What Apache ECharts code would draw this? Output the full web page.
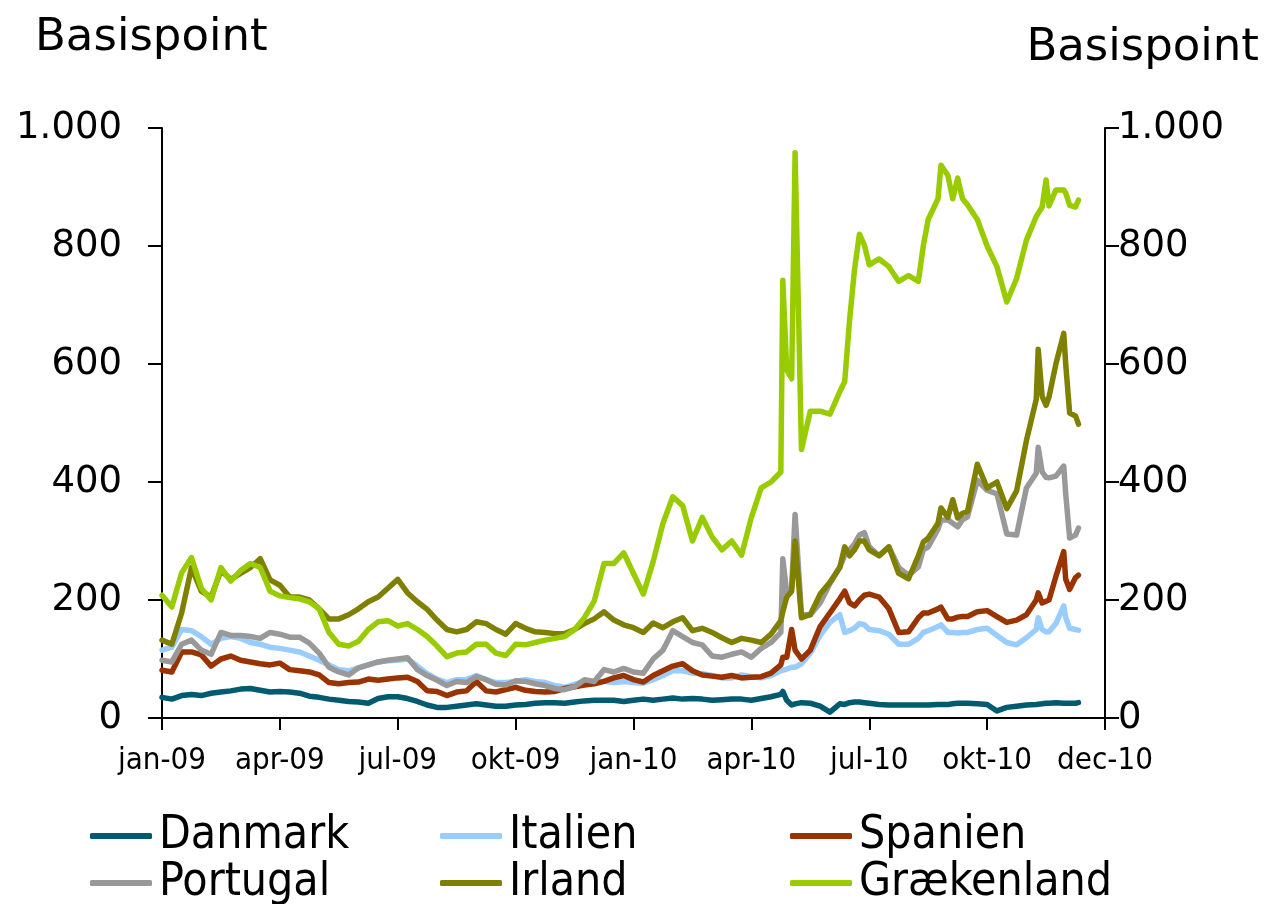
<!DOCTYPE html>
<html>
<head>
<meta charset="utf-8">
<script src="https://cdn.jsdelivr.net/npm/echarts@6/dist/echarts.min.js"></script>
<style>
  html, body { margin: 0; padding: 0; background: #fff; }
  #chart { width: 1269px; height: 904px; }
</style>
</head>
<body>
<div id="chart"></div>
<script>
// x positions in weeks from start of jan-09 (one tick label every 12 weeks)
const weeks = [
  0, 1, 2, 3, 4, 5, 6, 7, 8, 9, 10, 11, 12, 13, 14, 15, 16, 17, 18, 19,
  20, 21, 22, 23, 24, 25, 26, 27, 28, 29, 30, 31, 32, 33, 34, 35, 36, 37, 38, 39,
  40, 41, 42, 43, 44, 45, 46, 47, 48, 49, 50, 51, 52, 53, 54, 55, 56, 57, 58, 59,
  60, 61, 62, 63, 63.2, 63.6, 64.1, 64.45, 65.1, 66, 67, 68, 69, 69.5, 70, 70.5,
  71, 71.5, 72, 73, 74, 75, 76, 77, 77.5, 78, 79, 79.3, 80, 80.5, 81, 81.5, 82,
  83, 84, 85, 86, 87, 88, 89, 89.2, 89.6, 90, 90.3, 91, 91.8, 92, 92.4, 93, 93.3
]
const xLabels = ["jan-09", "apr-09", "jul-09", "okt-09", "jan-10", "apr-10", "jul-10", "okt-10", "dec-10"]

const danmark = [
  35, 32, 38, 40, 38, 42, 44, 46, 49, 50, 47, 44, 45, 44, 42, 37, 35, 32, 30, 28,
  27, 25, 33, 36, 36, 33, 28, 22, 18, 18, 20, 22, 24, 22, 20, 20, 22, 23, 25, 26,
  26, 25, 27, 29, 30, 30, 30, 28, 30, 32, 30, 32, 34, 32, 33, 32, 30, 31, 32, 32,
  30, 33, 36, 40, 45, 30, 22, 24, 26, 25, 20, 10, 24, 23, 26, 27,
  27, 26, 25, 23, 22, 22, 22, 22, 22, 22, 23, 23, 23, 24, 25, 25, 25,
  24, 23, 12, 18, 20, 22, 23, 23, 24, 25, 25, 26, 25, 26, 25, 25, 26
]
const italien = [
  115, 120, 150, 148, 138, 125, 135, 138, 135, 128, 125, 120, 118, 115, 112, 105, 98, 90, 82, 80,
  85, 90, 95, 97, 98, 100, 88, 75, 66, 60, 65, 65, 72, 65, 60, 60, 62, 65, 62, 60,
  55, 52, 57, 62, 62, 62, 60, 62, 60, 59, 65, 72, 80, 80, 76, 75, 72, 68, 68, 73,
  70, 68, 72, 80, 81, 83, 86, 86, 92, 110, 140, 162, 175, 145, 148, 152,
  160, 158, 150, 148, 142, 125, 125, 135, 145, 148, 155, 158, 145, 145, 144, 145, 145,
  150, 152, 140, 128, 124, 136, 150, 170, 150, 146, 146, 160, 190, 170, 152, 150, 149
]
const spanien = [
  81, 78, 112, 112, 107, 88, 100, 105, 98, 95, 92, 90, 93, 82, 80, 78, 73, 60, 58, 60,
  61, 66, 64, 66, 68, 69, 62, 46, 45, 38, 44, 46, 62, 46, 44, 48, 52, 47, 45, 44,
  45, 50, 53, 56, 58, 62, 68, 72, 65, 61, 72, 80, 88, 92, 80, 73, 71, 69, 72, 68,
  69, 70, 76, 90, 103, 103, 150, 115, 100, 115, 155, 178, 202, 215, 195, 190,
  200, 208, 210, 205, 185, 145, 146, 170, 178, 178, 185, 188, 168, 168, 171, 172, 172,
  180, 182, 172, 162, 166, 175, 200, 212, 195, 198, 200, 240, 282, 235, 218, 238, 242
]
const portugal = [
  98, 95, 125, 132, 115, 108, 145, 140, 140, 138, 135, 145, 142, 137, 137, 127, 110, 86, 78, 73,
  85, 90, 95, 98, 100, 102, 82, 72, 64, 55, 62, 60, 70, 65, 57, 56, 63, 62, 58, 55,
  50, 48, 53, 65, 62, 82, 78, 84, 78, 76, 100, 115, 148, 138, 128, 124, 105, 103, 108, 112,
  103, 118, 128, 145, 270, 212, 220, 345, 175, 175, 195, 228, 256, 275, 285, 295,
  310, 314, 290, 275, 290, 255, 242, 256, 285, 290, 320, 335, 336, 330, 324, 336, 341,
  403, 386, 380, 312, 310, 390, 415, 459, 417, 408, 407, 410, 427, 380, 305, 310, 322
]
const irland = [
  132, 125, 178, 255, 215, 205, 250, 235, 245, 255, 270, 234, 225, 205, 205, 200, 185, 168, 168, 175,
  185, 197, 205, 220, 235, 212, 197, 184, 166, 150, 146, 150, 163, 160, 150, 142, 160, 152, 146, 145,
  143, 143, 150, 160, 168, 180, 166, 158, 153, 145, 161, 153, 163, 170, 148, 152, 145, 136, 128, 135,
  132, 128, 142, 165, 180, 205, 215, 300, 170, 175, 210, 230, 255, 290, 275, 285,
  300, 300, 285, 275, 290, 245, 236, 275, 298, 305, 330, 356, 340, 370, 339, 347, 350,
  430, 390, 400, 355, 385, 470, 540, 625, 545, 530, 544, 600, 652, 600, 517, 512, 498
]
const graekenland = [
  208, 188, 246, 272, 220, 200, 255, 232, 250, 262, 255, 215, 207, 204, 202, 197, 185, 145, 125, 122,
  130, 150, 163, 165, 156, 160, 150, 138, 122, 104, 110, 112, 125, 125, 110, 106, 125, 124, 128, 132,
  135, 138, 150, 170, 198, 262, 262, 280, 245, 210, 265, 330, 375, 360, 300, 340, 307, 285, 300, 276,
  340, 390, 400, 417, 742, 590, 575, 958, 455, 520, 520, 515, 553, 570, 675, 760,
  820, 802, 768, 778, 765, 740, 750, 740, 800, 845, 880, 937, 920, 880, 915, 880, 870,
  845, 800, 765, 705, 745, 810, 850, 853, 866, 912, 868, 895, 895, 890, 869, 866, 878
]

const seriesNames = ["Danmark", "Italien", "Spanien", "Portugal", "Irland", "Grækenland"]
const seriesValues = [danmark, italien, spanien, portugal, irland, graekenland]
const seriesColors = ["#005a70", "#99ccff", "#993300", "#999999", "#808000", "#99cc00"]

const font = "DejaVu Sans"
const condensed = "'DejaVu Sans Condensed', 'Liberation Sans Narrow', 'DejaVu Sans'"

const chart = echarts.init(document.getElementById("chart"), null, { renderer: "canvas" })

// 3 legend columns, 2 rows each
const legendCol = (names, left) => ({
  data: names,
  orient: "vertical",
  left: left,
  top: 813,
  height: 120,
  padding: 0,
  itemGap: 1,
  itemWidth: 62,
  itemHeight: 6,
  icon: "roundRect",
  textStyle: { fontFamily: condensed, fontSize: 46, color: "#000", lineHeight: 46, padding: [0, 0, 0, 2] },
  selectedMode: false
})

const yAxisBase = {
  type: "value",
  min: 0,
  max: 1000,
  interval: 200,
  splitLine: { show: false },
  axisLine: { show: true, lineStyle: { color: "#000", width: 2 } },
  axisTick: { show: true, length: 14, lineStyle: { color: "#000", width: 2 } },
  axisLabel: {
    fontFamily: font,
    fontSize: 37,
    color: "#000",
    formatter: (v) => (v >= 1000 ? "1." + String(v).slice(1) : String(v))
  }
}

const option = {
  animation: false,
  backgroundColor: "#fff",
  title: [
    { text: "Basispoint", left: 30, top: 11, textStyle: { fontFamily: font, fontSize: 45, fontWeight: "normal", color: "#000" } },
    { text: "Basispoint", right: 5, top: 21, textStyle: { fontFamily: font, fontSize: 45, fontWeight: "normal", color: "#000" } }
  ],
  legend: [
    legendCol(["Danmark", "Portugal"], 90),
    legendCol(["Italien", "Irland"], 440),
    legendCol(["Spanien", "Grækenland"], 790)
  ],
  grid: { left: 162, right: 164, top: 128, bottom: 186, containLabel: false },
  xAxis: {
    type: "value",
    min: 0,
    max: 96,
    interval: 12,
    splitLine: { show: false },
    axisLine: { show: true, onZero: false, lineStyle: { color: "#000", width: 2 } },
    axisTick: { show: true, length: 12, lineStyle: { color: "#000", width: 2 } },
    axisLabel: {
      fontFamily: condensed,
      fontSize: 31,
      color: "#000",
      margin: 27,
      formatter: (v) => xLabels[Math.round(v / 12)] || ""
    }
  },
  yAxis: [
    Object.assign({}, yAxisBase, { position: "left", axisLabel: Object.assign({}, yAxisBase.axisLabel, { margin: 40 }) }),
    Object.assign({}, yAxisBase, { position: "right", axisLabel: Object.assign({}, yAxisBase.axisLabel, { margin: 13 }) })
  ],
  series: seriesNames.map((name, i) => ({
    name: name,
    type: "line",
    yAxisIndex: 0,
    showSymbol: false,
    symbol: "none",
    data: weeks.map((w, j) => [w, seriesValues[i][j]]),
    lineStyle: { width: 5.5, color: seriesColors[i], join: "round", cap: "round" },
    itemStyle: { color: seriesColors[i] },
    emphasis: { disabled: true }
  }))
}

chart.setOption(option)
</script>
</body>
</html>
